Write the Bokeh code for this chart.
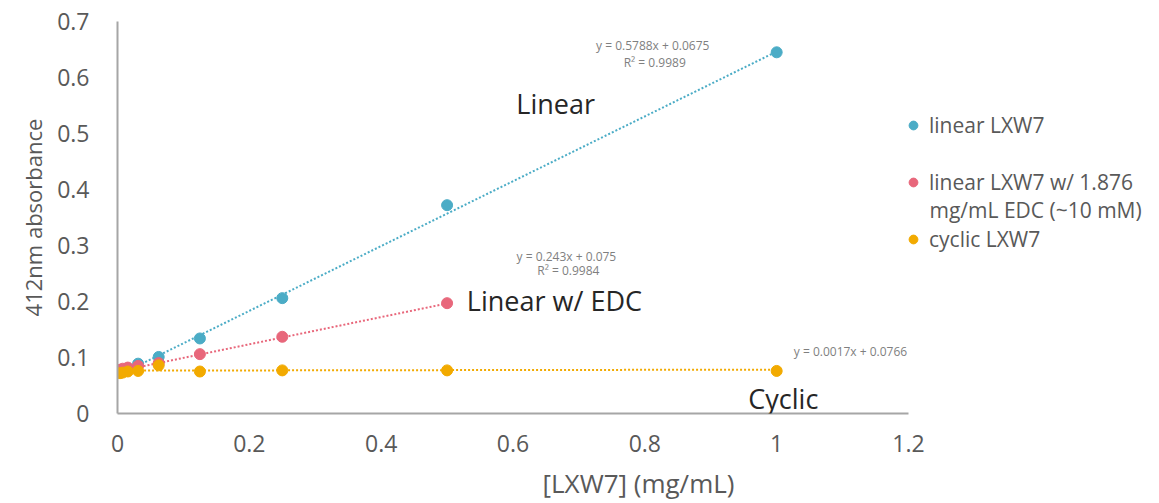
from bokeh.plotting import figure
from bokeh.models import (Range1d, FixedTicker, CustomJSTickFormatter, Label,
                          Legend, LegendItem)
from bokeh.embed import file_html
from bokeh.resources import INLINE

# ---- data ----
x_linear = [0.0039, 0.0078, 0.0156, 0.03125, 0.0625, 0.125, 0.25, 0.5, 1.0]
y_linear = [0.076, 0.078, 0.080, 0.089, 0.101, 0.134, 0.206, 0.372, 0.645]

x_edc = [0.0039, 0.0078, 0.0156, 0.03125, 0.0625, 0.125, 0.25, 0.5]
y_edc = [0.078, 0.080, 0.082, 0.085, 0.090, 0.106, 0.137, 0.197]

x_cyclic = [0.0039, 0.0078, 0.0156, 0.03125, 0.0625, 0.125, 0.25, 0.5, 1.0]
y_cyclic = [0.072, 0.073, 0.075, 0.076, 0.086, 0.075, 0.077, 0.077, 0.076]

# trendline coefficients (slope, intercept) as printed on the chart
fit_linear = [0.5788, 0.0675]
fit_edc = [0.243, 0.075]
fit_cyclic = [0.0017, 0.0766]

x_ticks = [0, 0.2, 0.4, 0.6, 0.8, 1.0, 1.2]
y_ticks = [0, 0.1, 0.2, 0.3, 0.4, 0.5, 0.6, 0.7]

C_BLUE = "#4BACC6"
C_PINK = "#E8677B"
C_GOLD = "#F2AA00"
GRAY = "#595959"
FONT = "Open Sans"

# plotting frame spans to the right edge; axis drawn only over 0..1.2
PX_PER_UNIT = 791 / 1.2
X_END = (1159 - 117) / PX_PER_UNIT

p = figure(width=1159, height=503, output_backend="svg", toolbar_location=None,
           x_range=Range1d(0, X_END), y_range=Range1d(0, 0.7),
           min_border_left=117, min_border_right=0, min_border_top=21,
           min_border_bottom=90)
p.outline_line_color = None
p.xgrid.visible = False
p.ygrid.visible = False
p.background_fill_color = "white"
p.border_fill_color = "white"

fmt = CustomJSTickFormatter(code="return String(Number(tick.toFixed(1)));")
for ax, ticks in ((p.xaxis[0], x_ticks), (p.yaxis[0], y_ticks)):
    ax.ticker = FixedTicker(ticks=ticks)
    ax.formatter = fmt
    ax.major_tick_line_color = None
    ax.minor_tick_line_color = None
    ax.major_tick_out = 0
    ax.major_tick_in = 0
    ax.minor_tick_out = 0
    ax.axis_line_color = "#A6A6A6"
    ax.axis_line_width = 2
    ax.major_label_text_font = FONT
    ax.major_label_text_font_size = "23px"
    ax.major_label_text_color = GRAY
    ax.axis_label_text_font = FONT
    ax.axis_label_text_font_style = "normal"
    ax.axis_label_text_color = GRAY

p.xaxis.bounds = (0, 1.2)
p.xaxis.axis_label = "[LXW7] (mg/mL)"
p.yaxis.axis_label = "412nm absorbance"
p.xaxis.axis_label_text_font_size = "26px"
p.yaxis.axis_label_text_font_size = "22px"
p.xaxis.major_label_standoff = 21
p.yaxis.major_label_standoff = 28
p.xaxis.axis_label_standoff = 10
p.yaxis.axis_label_standoff = 6


def trend(xs, fit):
    x0, x1 = min(xs), max(xs)
    return [x0, x1], [fit[0] * x0 + fit[1], fit[0] * x1 + fit[1]]


for xs, ys, fit, col in ((x_linear, y_linear, fit_linear, C_BLUE),
                         (x_edc, y_edc, fit_edc, C_PINK),
                         (x_cyclic, y_cyclic, fit_cyclic, C_GOLD)):
    tx, ty = trend(xs, fit)
    p.line(tx, ty, line_color=col, line_width=2, line_dash="2 2")

r_lin = p.scatter(x_linear, y_linear, size=11, color=C_BLUE)
r_edc = p.scatter(x_edc, y_edc, size=11, color=C_PINK)
r_cyc = p.scatter(x_cyclic, y_cyclic, size=11, color=C_GOLD)

# ---- legends (right-hand area of the frame) ----
LEG_H = 26
GLYPH = 22


def add_legend(label, renderer, center_px):
    lg = Legend(items=[LegendItem(label=label, renderers=[renderer])],
                location=(913 - 117 - GLYPH // 2, 413 - center_px - LEG_H // 2),
                padding=0, margin=0, spacing=0, glyph_width=GLYPH,
                glyph_height=GLYPH, label_standoff=5, label_height=LEG_H,
                border_line_color=None, background_fill_alpha=0,
                label_text_font=FONT, label_text_font_size="21px",
                label_text_color=GRAY)
    p.add_layout(lg, "center")


add_legend("linear LXW7", r_lin, 126)
add_legend("linear LXW7 w/ 1.876", r_edc, 183)
add_legend("cyclic LXW7", r_cyc, 240)
p.add_layout(Label(x=(929 - 117) / PX_PER_UNIT, y=(413 - 209) / 560,
                   text="mg/mL EDC (~10 mM)", text_font=FONT,
                   text_font_size="21px", text_color=GRAY,
                   text_baseline="middle"))


# ---- annotations ----
def note(x, y, text, size, color, align="left"):
    p.add_layout(Label(x=x, y=y, text=text, text_font=FONT,
                       text_font_size=size, text_color=color,
                       text_align=align, text_baseline="middle"))


note(0.605, 0.554, "Linear", "27px", "#262626")
note(0.53, 0.202, "Linear w/ EDC", "27px", "#262626")
note(0.957, 0.027, "Cyclic", "27px", "#262626")
note(0.812, 0.658, "y = 0.5788x + 0.0675", "12px", "#7F7F7F", "center")
note(0.815, 0.627, "R² = 0.9989", "12px", "#7F7F7F", "center")
note(0.681, 0.281, "y = 0.243x + 0.075", "12px", "#7F7F7F", "center")
note(0.684, 0.256, "R² = 0.9984", "12px", "#7F7F7F", "center")
note(1.026, 0.111, "y = 0.0017x + 0.0766", "12px", "#7F7F7F")

open("out.html", "w").write(file_html(p, INLINE))
